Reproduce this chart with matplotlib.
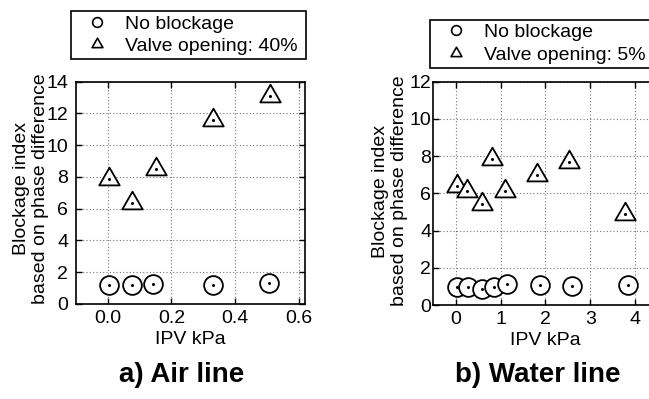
import matplotlib
matplotlib.use("Agg")
import matplotlib.pyplot as plt
from matplotlib.lines import Line2D
from matplotlib.path import Path
from matplotlib.ticker import FormatStrFormatter

plt.rcParams['font.family'] = ['Liberation Sans', 'DejaVu Sans']

# ---- data: a) Air line ----
air_nb_x = [0.004, 0.077, 0.143, 0.33, 0.507]
air_nb_y = [1.19, 1.19, 1.26, 1.19, 1.30]
air_v_x = [0.004, 0.076, 0.151, 0.33, 0.509]
air_v_y = [7.9, 6.33, 8.53, 11.57, 13.1]
air_label = "Valve opening: 40%"

# ---- data: b) Water line ----
wat_nb_x = [0.03, 0.27, 0.59, 0.86, 1.14, 1.87, 2.60, 3.85]
wat_nb_y = [0.97, 0.97, 0.85, 0.97, 1.15, 1.08, 1.03, 1.06]
wat_v_x = [0.03, 0.25, 0.585, 0.81, 1.10, 1.81, 2.53, 3.77]
wat_v_y = [6.37, 6.15, 5.41, 7.82, 6.13, 7.00, 7.66, 4.91]
wat_label = "Valve opening: 5%"

nb_label = "No blockage"
xlabel = "IPV kPa"
ylabel = "Blockage index\nbased on phase difference"
title_a = "a) Air line"
title_b = "b) Water line"

W, H = 649, 399
fig = plt.figure(figsize=(W / 100, H / 100), dpi=100)

tri = Path([(-1, -0.577), (1, -0.577), (0, 1.155), (-1, -0.577)], closed=True)
FS = 14


def px_ax(x0, x1, ytop, ybot):
    return fig.add_axes([x0 / W, 1 - ybot / H, (x1 - x0) / W, (ybot - ytop) / H])


def draw(ax, nbx, nby, vx, vy, xlim, ylim, xticks, yticks, fmt, pad):
    ax.plot(nbx, nby, ls='none', marker='o', ms=13.5, mfc='white', mec='black', mew=1.3, zorder=3)
    ax.plot(vx, vy, ls='none', marker=tri, ms=17, mfc='white', mec='black', mew=1.3, zorder=3)
    ax.plot(nbx, nby, ls='none', marker='o', ms=1.2, color='black', zorder=4)
    ax.plot(vx, vy, ls='none', marker='o', ms=1.2, color='black', zorder=4)
    ax.set_xlim(*xlim)
    ax.set_ylim(*ylim)
    ax.set_xticks(xticks)
    ax.set_yticks(yticks)
    if fmt:
        ax.xaxis.set_major_formatter(FormatStrFormatter(fmt))
    ax.grid(True, ls=(0, (1, 2)), color='#777777', lw=0.8)
    ax.set_axisbelow(True)
    ax.tick_params(direction='in', top=True, right=True, length=4, width=1.0,
                   labelsize=FS, colors='black')
    ax.tick_params(axis='y', pad=pad)
    ax.tick_params(axis='x', pad=4)
    for s in ax.spines.values():
        s.set_linewidth(1.2)
    ax.set_xlabel(xlabel, fontsize=FS, labelpad=3)
    ax.set_ylabel(ylabel, fontsize=FS, linespacing=1.15)


ax1 = px_ax(76, 305, 81.7, 304)
draw(ax1, air_nb_x, air_nb_y, air_v_x, air_v_y, (-0.1, 0.62), (0, 14),
     [0.0, 0.2, 0.4, 0.6], list(range(0, 15, 2)), '%.1f', 5.5)
ax1.yaxis.set_label_coords(-0.12, 0.52)

ax2 = px_ax(433.3, 657.4, 81.7, 305)
draw(ax2, wat_nb_x, wat_nb_y, wat_v_x, wat_v_y, (-0.5, 4.5), (0, 12),
     [0, 1, 2, 3, 4], list(range(0, 13, 2)), None, 1.5)
ax2.yaxis.set_label_coords(-0.115, 0.51)


def make_legend(ax, label, x0, x1, ytop, ybot):
    h = [Line2D([], [], ls='none', marker='o', ms=7, mfc='white', mec='black', mew=1.2),
         Line2D([], [], ls='none', marker=tri, ms=9, mfc='white', mec='black', mew=1.2)]
    leg = ax.legend(h, [nb_label, label], loc='center left',
                    bbox_to_anchor=(x0 / W, 1 - ybot / H, (x1 - x0) / W, (ybot - ytop) / H),
                    bbox_transform=fig.transFigure, mode='expand', fontsize=FS,
                    frameon=True, fancybox=False, borderaxespad=0, handlelength=2.3,
                    handletextpad=0.3, labelspacing=0.25, borderpad=0.2)
    fr = leg.get_frame()
    fr.set_edgecolor('black')
    fr.set_linewidth(1.2)
    fr.set_alpha(1)


make_legend(ax1, air_label, 70.7, 306, 6.7, 63.3)
make_legend(ax2, wat_label, 430, 660, 15.7, 71.7)

fig.text(181.7 / W, 1 - 382 / H, title_a, ha='center', va='baseline', fontsize=20, fontweight='bold')
fig.text(537.5 / W, 1 - 382 / H, title_b, ha='center', va='baseline', fontsize=20, fontweight='bold')

fig.savefig('out.png', dpi=100)
